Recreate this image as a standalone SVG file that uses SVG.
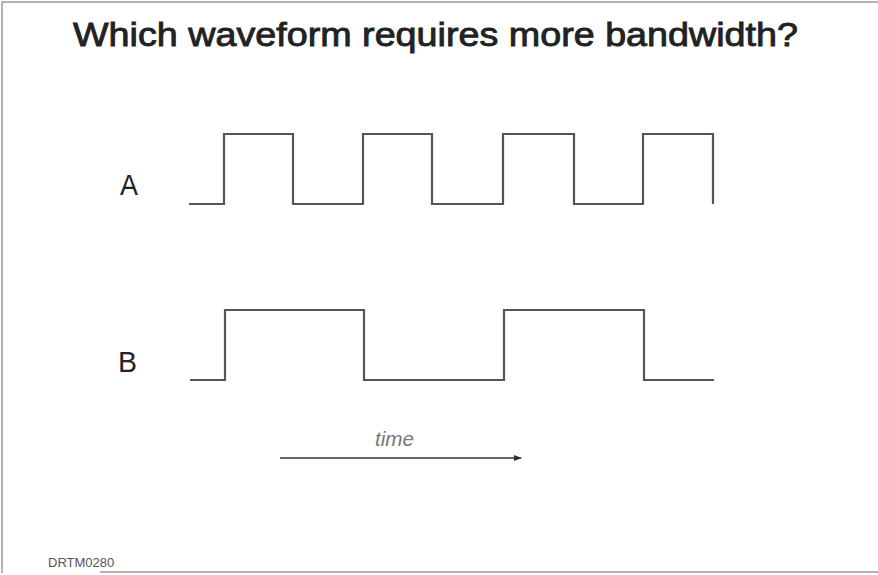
<svg xmlns="http://www.w3.org/2000/svg" width="878" height="575" viewBox="0 0 878 575">
<defs>
<style>
.wave{fill:none;stroke:#555;stroke-width:2.2;stroke-linejoin:miter}
.lbl{font-family:"Liberation Sans",Arial,sans-serif;fill:#222}
</style>
<marker id="ah" markerWidth="8" markerHeight="6" refX="7" refY="3" orient="auto" markerUnits="userSpaceOnUse">
<path d="M0,0 L8,3 L0,6 Z" fill="#333"/>
</marker>
</defs>
<rect width="878" height="575" fill="#fff"/>
<g id="frame" fill="none" stroke="#999" stroke-width="1.5">
<path d="M2,573 L2,2 L878,2"/>
<path d="M100,572 L878,572"/>
</g>
<g id="title"><text class="lbl" x="73" y="46" font-size="34" stroke="#222" stroke-width="0.9" textLength="725" lengthAdjust="spacingAndGlyphs">Which waveform requires more bandwidth?</text></g>
<g id="labelA"><text class="lbl" x="120" y="195" font-size="30" fill="#333" textLength="18" lengthAdjust="spacingAndGlyphs">A</text></g>
<g id="labelB"><text class="lbl" x="118" y="372" font-size="30" fill="#333" textLength="19" lengthAdjust="spacingAndGlyphs">B</text></g>
<g id="waveA"><path class="wave" d="M189,204 H224 V134 H293 V204 H363 V134 H432 V204 H503 V134 H574 V204 H643 V134 H713 V204"/></g>
<g id="waveB"><path class="wave" d="M190,380 H225 V310 H364 V380 H504 V310 H644 V380 H714"/></g>
<g id="connectors">
<line x1="280" y1="458" x2="521" y2="458" stroke="#333" stroke-width="1.5" marker-end="url(#ah)"/>
</g>
<g id="timeLabel"><text x="375" y="446" font-family="Liberation Sans,Arial,sans-serif" font-style="italic" font-size="20" fill="#777" textLength="39" lengthAdjust="spacingAndGlyphs">time</text></g>
<g id="code"><text x="48" y="567" font-family="Liberation Sans,Arial,sans-serif" font-size="13" fill="#555">DRTM0280</text></g>
</svg>
